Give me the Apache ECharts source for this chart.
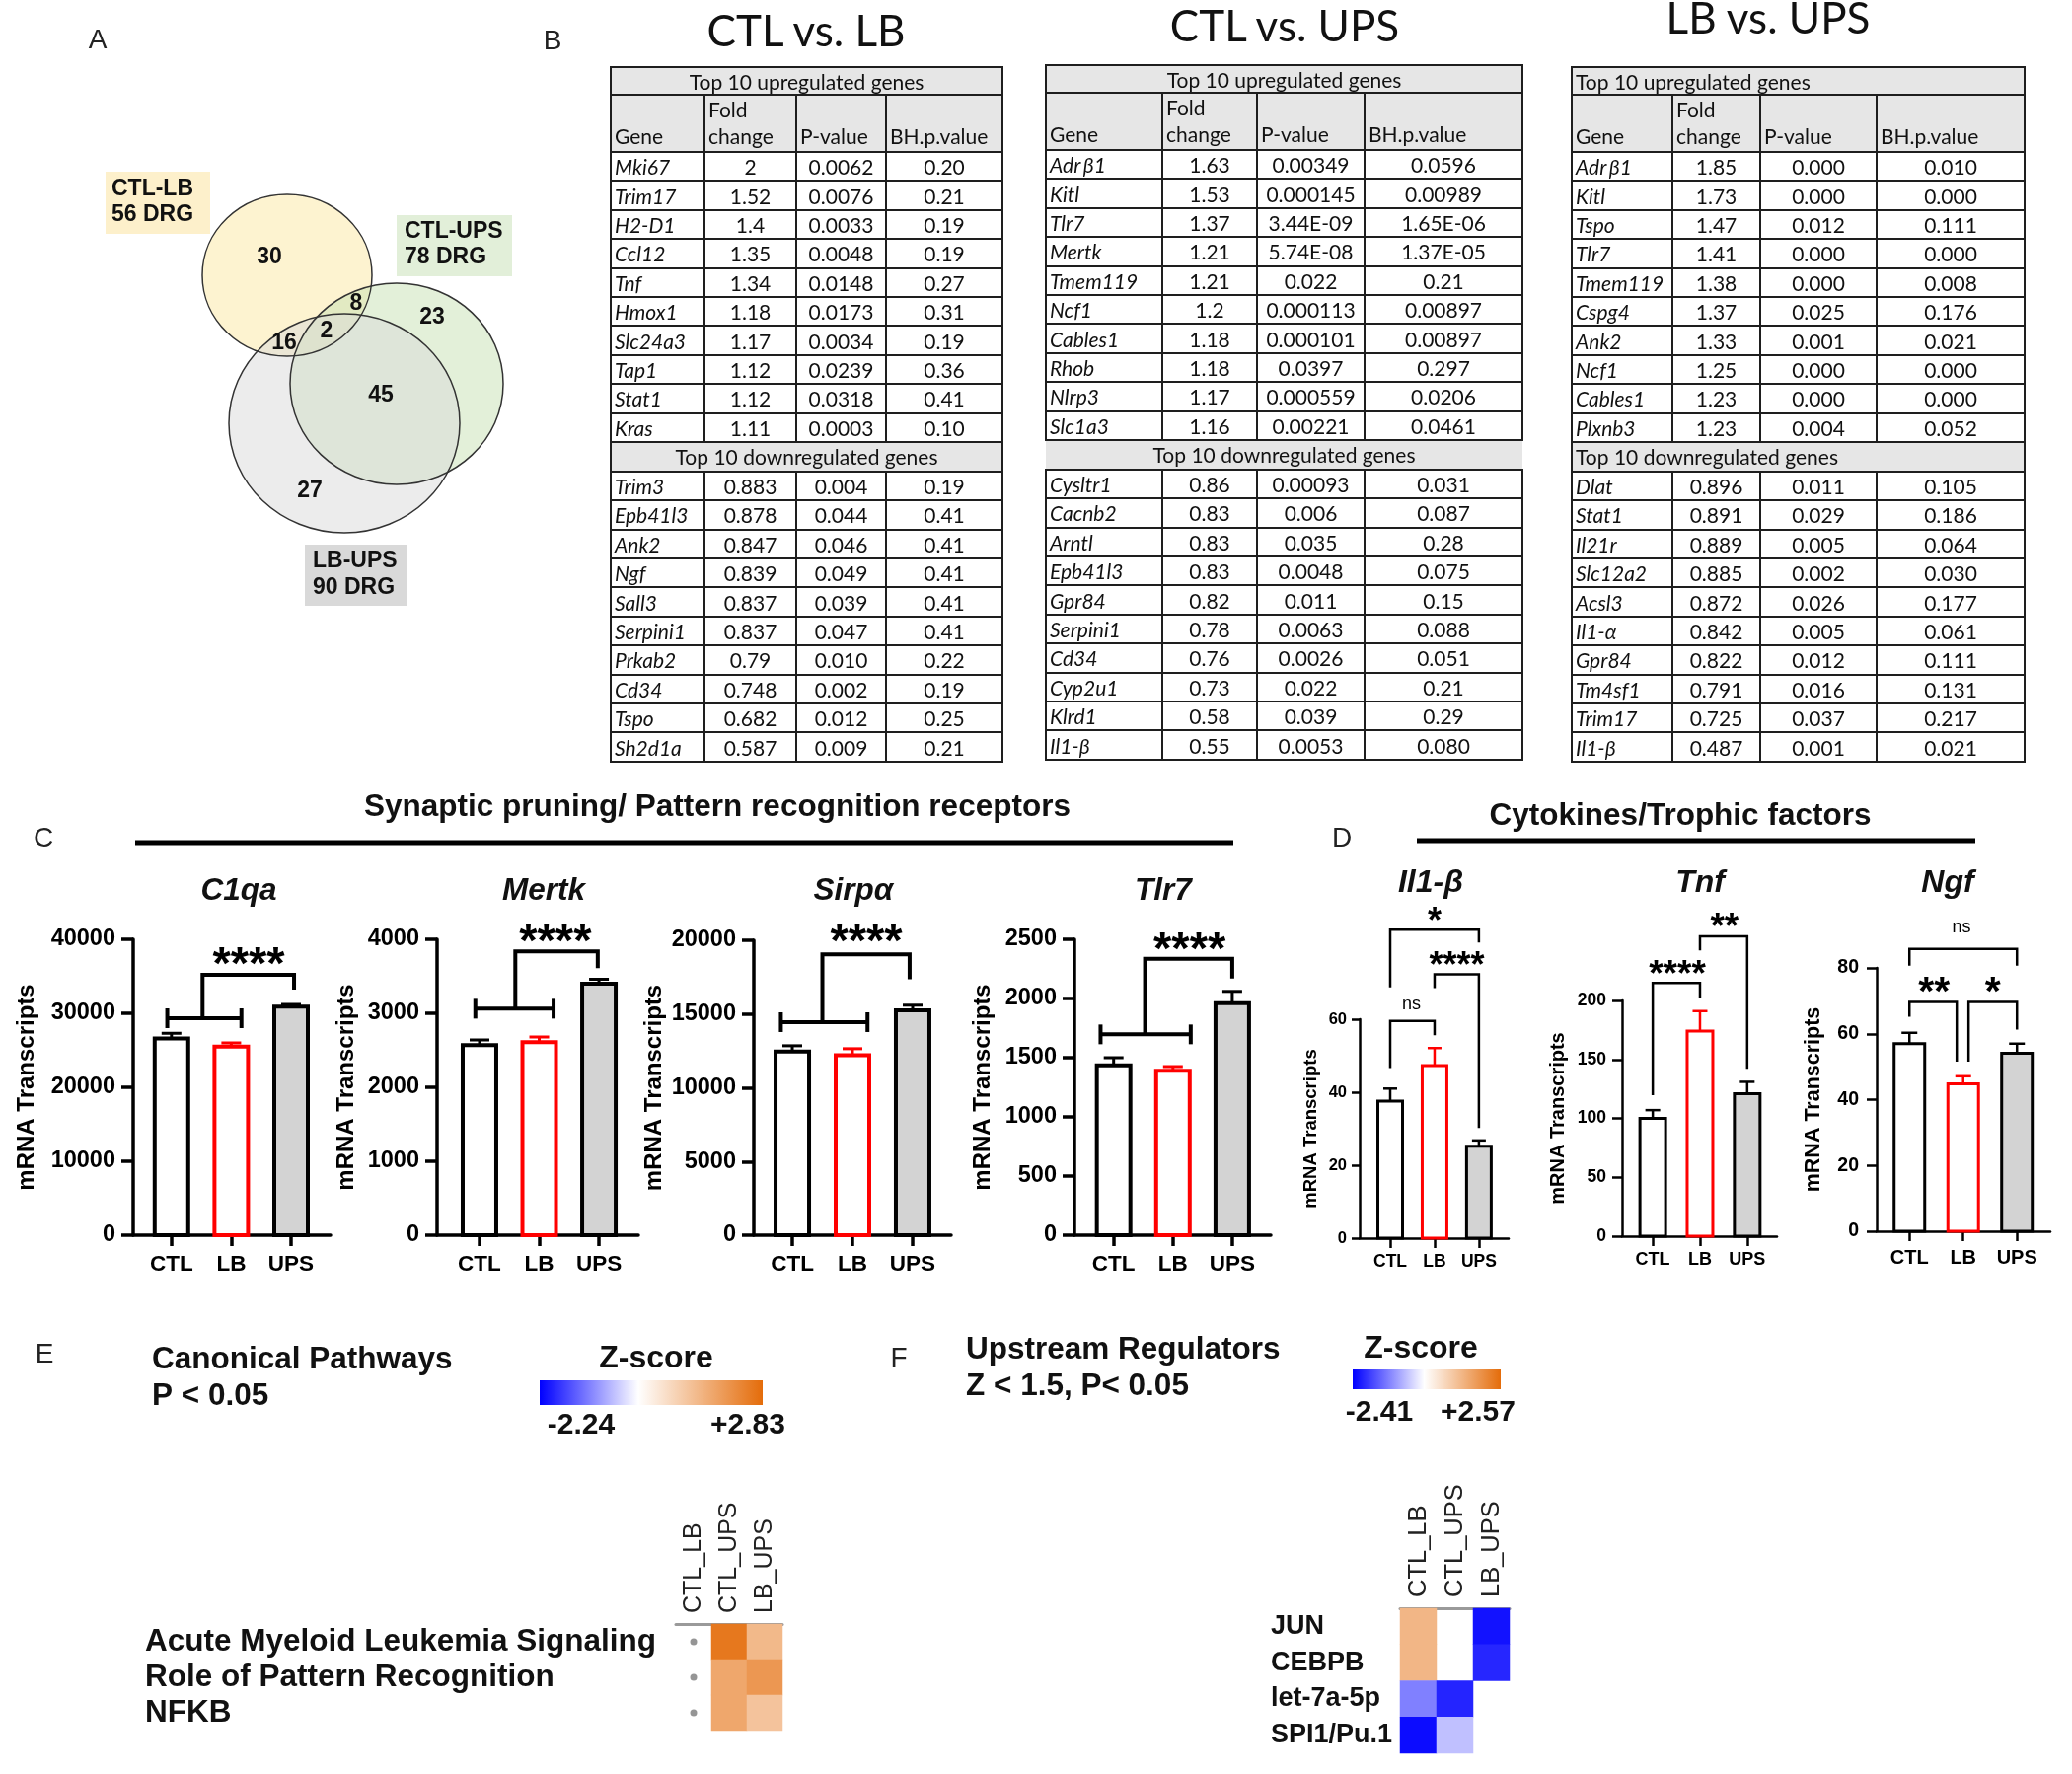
<!DOCTYPE html>
<html>
<head>
<meta charset="utf-8">
<script src="https://cdn.jsdelivr.net/npm/echarts@6/dist/echarts.min.js"></script>
<style>
html,body{margin:0;padding:0;background:#fff;}
#wrap{position:relative;width:2100px;height:1798px;overflow:hidden;background:#fff;}
#chart{position:absolute;left:0;top:0;width:2100px;height:1798px;}
.ttl{position:absolute;font-family:Lato,'Open Sans',sans-serif;font-size:44px;color:#111;transform:translate(-50%,-50%);white-space:nowrap;line-height:1;z-index:2;}
table.t{position:absolute;border-collapse:collapse;table-layout:fixed;font-family:Lato,'Open Sans',sans-serif;font-size:21px;color:#111;z-index:2;}
table.t td{border:2px solid #1e1e1e;padding:0 3px;text-align:center;white-space:nowrap;overflow:hidden;line-height:1;vertical-align:middle;}
table.t td.g{text-align:left;font-style:italic;}
table.t tr.hd td{background:#e6e6e6;}
table.t tr.ch td{background:#e6e6e6;text-align:left;vertical-align:bottom;padding-bottom:2px;line-height:27px;}
</style>
</head>
<body>
<div id="wrap"><div id="chart"></div></div>
<script>
// ================= DATA =================
// Panel A (Venn)
const vennSets = ['CTL-LB', 'CTL-UPS', 'LB-UPS'];
const vennTotals = [56, 78, 90];
const vennRegions = ['CTL-LB only', 'CTL-LB & CTL-UPS', 'CTL-UPS only', 'all three', 'CTL-LB & LB-UPS', 'CTL-UPS & LB-UPS', 'LB-UPS only'];
const vennCounts = [30, 8, 23, 2, 16, 45, 27];

// Panel B tables
const t1UpGenes = ['Mki67','Trim17','H2-D1','Ccl12','Tnf','Hmox1','Slc24a3','Tap1','Stat1','Kras'];
const t1UpFC = ['2','1.52','1.4','1.35','1.34','1.18','1.17','1.12','1.12','1.11'];
const t1UpP = ['0.0062','0.0076','0.0033','0.0048','0.0148','0.0173','0.0034','0.0239','0.0318','0.0003'];
const t1UpBH = ['0.20','0.21','0.19','0.19','0.27','0.31','0.19','0.36','0.41','0.10'];
const t1DnGenes = ['Trim3','Epb41l3','Ank2','Ngf','Sall3','Serpini1','Prkab2','Cd34','Tspo','Sh2d1a'];
const t1DnFC = ['0.883','0.878','0.847','0.839','0.837','0.837','0.79','0.748','0.682','0.587'];
const t1DnP = ['0.004','0.044','0.046','0.049','0.039','0.047','0.010','0.002','0.012','0.009'];
const t1DnBH = ['0.19','0.41','0.41','0.41','0.41','0.41','0.22','0.19','0.25','0.21'];

const t2UpGenes = ['Adr\u2009β1','Kitl','Tlr7','Mertk','Tmem119','Ncf1','Cables1','Rhob','Nlrp3','Slc1a3'];
const t2UpFC = ['1.63','1.53','1.37','1.21','1.21','1.2','1.18','1.18','1.17','1.16'];
const t2UpP = ['0.00349','0.000145','3.44E-09','5.74E-08','0.022','0.000113','0.000101','0.0397','0.000559','0.00221'];
const t2UpBH = ['0.0596','0.00989','1.65E-06','1.37E-05','0.21','0.00897','0.00897','0.297','0.0206','0.0461'];
const t2DnGenes = ['Cysltr1','Cacnb2','Arntl','Epb41l3','Gpr84','Serpini1','Cd34','Cyp2u1','Klrd1','Il1-β'];
const t2DnFC = ['0.86','0.83','0.83','0.83','0.82','0.78','0.76','0.73','0.58','0.55'];
const t2DnP = ['0.00093','0.006','0.035','0.0048','0.011','0.0063','0.0026','0.022','0.039','0.0053'];
const t2DnBH = ['0.031','0.087','0.28','0.075','0.15','0.088','0.051','0.21','0.29','0.080'];

const t3UpGenes = ['Adr\u2009β1','Kitl','Tspo','Tlr7','Tmem119','Cspg4','Ank2','Ncf1','Cables1','Plxnb3'];
const t3UpFC = ['1.85','1.73','1.47','1.41','1.38','1.37','1.33','1.25','1.23','1.23'];
const t3UpP = ['0.000','0.000','0.012','0.000','0.000','0.025','0.001','0.000','0.000','0.004'];
const t3UpBH = ['0.010','0.000','0.111','0.000','0.008','0.176','0.021','0.000','0.000','0.052'];
const t3DnGenes = ['Dlat','Stat1','Il21r','Slc12a2','Acsl3','Il1-α','Gpr84','Tm4sf1','Trim17','Il1-β'];
const t3DnFC = ['0.896','0.891','0.889','0.885','0.872','0.842','0.822','0.791','0.725','0.487'];
const t3DnP = ['0.011','0.029','0.005','0.002','0.026','0.005','0.012','0.016','0.037','0.001'];
const t3DnBH = ['0.105','0.186','0.064','0.030','0.177','0.061','0.111','0.131','0.217','0.021'];

// Panels C & D (bar charts: mean and SEM)
const groups = ['CTL', 'LB', 'UPS'];
const c1qaMean = [26600, 25500, 30900];
const c1qaSEM = [700, 500, 300];
const c1qaTicks = [0, 10000, 20000, 30000, 40000];
const mertkMean = [2570, 2610, 3400];
const mertkSEM = [70, 70, 60];
const mertkTicks = [0, 1000, 2000, 3000, 4000];
const sirpaMean = [12450, 12200, 15250];
const sirpaSEM = [400, 450, 350];
const sirpaTicks = [0, 5000, 10000, 15000, 20000];
const tlr7Mean = [1435, 1390, 1960];
const tlr7SEM = [65, 35, 100];
const tlr7Ticks = [0, 500, 1000, 1500, 2000, 2500];
const il1bMean = [37.6, 47.3, 25.2];
const il1bSEM = [3.4, 4.8, 1.6];
const il1bTicks = [0, 20, 40, 60];
const tnfMean = [100, 174, 121];
const tnfSEM = [7, 17, 10];
const tnfTicks = [0, 50, 100, 150, 200];
const ngfMean = [57.0, 44.8, 54.1];
const ngfSEM = [3.3, 2.3, 2.9];
const ngfTicks = [0, 20, 40, 60, 80];

// significance annotations (x in group index units, y in data units)
const c1qaSig = {h: [-0.07, 1.17, 29333], link: [[0.52, 29333], [0.52, 35200], [2.05, 35200], [2.05, 33200]], text: ['****', 1.29, 37900]};
const mertkSig = {h: [-0.07, 1.24, 3062], link: [[0.6, 3062], [0.6, 3836], [1.98, 3836], [1.98, 3610]], text: ['****', 1.27, 4093]};
const sirpaSig = {h: [-0.19, 1.25, 14450], link: [[0.5, 14450], [0.5, 19040], [1.95, 19040], [1.95, 17360]], text: ['****', 1.23, 20490]};
const tlr7Sig = {h: [-0.22, 1.3, 1697], link: [[0.53, 1697], [0.53, 2336], [2.0, 2336], [2.0, 2169]], text: ['****', 1.28, 2489]};
const il1bSig = {br: [[0, 1, 59.5, 46.6, 55.6], [1, 2, 72.3, 68.5, 30.2], [0, 2, 84.5, 68.7, 81.0]],
                 labels: [['ns', 0.48, 63.5], ['****', 1.5, 76.6], ['*', 1.0, 88.7]]};
const tnfSig = {br: [[0, 1, 214.8, 119.7, 202], [1, 2, 254.4, 242.4, 142]],
                labels: [['****', 0.52, 227.9], ['**', 1.52, 268]]};
const ngfSig = {br: [[0, 2, 85.8, 80.7, 80.7], [0, 0.88, 69.7, 65.2, 51.5], [1.1, 2, 69.7, 51.5, 61.3]],
                labels: [['ns', 0.97, 91.7], ['**', 0.46, 75.2], ['*', 1.55, 75.2]]};

// Panel E heatmap
const eCols = ['CTL_LB', 'CTL_UPS', 'LB_UPS'];
const eRows = ['Acute Myeloid Leukemia Signaling', 'Role of Pattern Recognition', 'NFKB'];
const eZ = [[null, 2.6, 1.35], [null, 1.7, 2.0], [null, 1.7, 1.15]];
const eRange = [-2.24, 2.83];
// Panel F heatmap
const fCols = ['CTL_LB', 'CTL_UPS', 'LB_UPS'];
const fRows = ['JUN', 'CEBPB', 'let-7a-5p', 'SPI1/Pu.1'];
const fZ = [[1.27, null, -2.24], [1.27, null, -2.05], [-1.2, -2.07, null], [-2.3, -0.6, null]];
const fRange = [-2.41, 2.57];

// ================= STYLE / LAYOUT =================
const SANS = '"Liberation Sans", Arial, Helvetica, sans-serif';
const NEG = [0, 0, 255], ZERO = [255, 255, 255], POS = [228, 108, 10];
const barFill = ['#ffffff', '#ffffff', '#d3d3d3'];
const barStroke = ['#000000', '#ff0000', '#000000'];

const SC = {axisW: 3.5, tickLen: 12, xTickLen: 11, labelFs: 23.5, labelMargin: 18, catFs: 22.5, catMargin: 18, nameFs: 24,
            barW: 38, barLW: 4, errLW: 3, capW: 20, sigLW: 4, capH: 10, starFs: 47, nsFs: 18, titleY: 903, titleFs: 31.5};
const SD1 = {axisW: 2.5, tickLen: 8, xTickLen: 10, labelFs: 16.5, labelMargin: 13, catFs: 17.5, catMargin: 15, nameFs: 18.5,
             barW: 28, barLW: 3, errLW: 2.5, capW: 14, sigLW: 2.5, starFs: 36, nsFs: 18, titleY: 895, titleFs: 32};
const SD2 = Object.assign({}, SD1, {tickLen: 10, labelFs: 17.5, labelMargin: 16, catFs: 18, nameFs: 20, barW: 29, capW: 15, starFs: 37});
const SD3 = Object.assign({}, SD1, {tickLen: 10, labelFs: 19.5, labelMargin: 18, catFs: 20, catMargin: 17, nameFs: 21.5, barW: 34, capW: 16, starFs: 41});

const barPanels = [
  {title: 'C1qa', mean: c1qaMean, sem: c1qaSEM, ticks: c1qaTicks, sig: c1qaSig, S: SC,
   L: {left: 135, right: 335, top: 952, bottom: 1252, xmin: -0.64, xmax: 2.66, titleX: 242, nameX: 27}},
  {title: 'Mertk', mean: mertkMean, sem: mertkSEM, ticks: mertkTicks, sig: mertkSig, S: SC,
   L: {left: 443, right: 647, top: 952, bottom: 1252, xmin: -0.71, xmax: 2.66, titleX: 551, nameX: 351}},
  {title: 'Sirpα', mean: sirpaMean, sem: sirpaSEM, ticks: sirpaTicks, sig: sirpaSig, S: SC,
   L: {left: 764, right: 964, top: 953, bottom: 1252, xmin: -0.64, xmax: 2.64, titleX: 865, nameX: 663}},
  {title: 'Tlr7', mean: tlr7Mean, sem: tlr7SEM, ticks: tlr7Ticks, sig: tlr7Sig, S: SC,
   L: {left: 1089, right: 1288, top: 952, bottom: 1252, xmin: -0.66, xmax: 2.65, titleX: 1179, nameX: 996}},
  {title: 'Il1-β', mean: il1bMean, sem: il1bSEM, ticks: il1bTicks, sig: il1bSig, S: SD1,
   L: {left: 1378, right: 1529, top: 1033, bottom: 1255, xmin: -0.69, xmax: 2.67, titleX: 1450, nameX: 1329}},
  {title: 'Tnf', mean: tnfMean, sem: tnfSEM, ticks: tnfTicks, sig: tnfSig, S: SD2,
   L: {left: 1644, right: 1801, top: 1014, bottom: 1253, xmin: -0.65, xmax: 2.63, titleX: 1723, nameX: 1579}},
  {title: 'Ngf', mean: ngfMean, sem: ngfSEM, ticks: ngfTicks, sig: ngfSig, S: SD3,
   L: {left: 1902, right: 2078, top: 981, bottom: 1248, xmin: -0.61, xmax: 2.62, titleX: 1974, nameX: 1838}}
];

// ================= TABLES (HTML) =================
const tableSpecs = [
  {title: 'CTL vs. LB', tx: 817, ty: 30, x: 618, y: 67, cols: [95, 93, 91, 118], align: 'center', split: false,
   up: [t1UpGenes, t1UpFC, t1UpP, t1UpBH], dn: [t1DnGenes, t1DnFC, t1DnP, t1DnBH]},
  {title: 'CTL vs. UPS', tx: 1302, ty: 25, x: 1059, y: 65, cols: [118, 96, 109, 160], align: 'center', split: true,
   up: [t2UpGenes, t2UpFC, t2UpP, t2UpBH], dn: [t2DnGenes, t2DnFC, t2DnP, t2DnBH]},
  {title: 'LB vs. UPS', tx: 1792, ty: 17, x: 1592, y: 67, cols: [102, 89, 118, 150], align: 'left', split: false,
   up: [t3UpGenes, t3UpFC, t3UpP, t3UpBH], dn: [t3DnGenes, t3DnFC, t3DnP, t3DnBH]}
];
const wrap = document.getElementById('wrap');
tableSpecs.forEach(spec => {
  const tt = document.createElement('div');
  tt.className = 'ttl'; tt.textContent = spec.title;
  tt.style.left = spec.tx + 'px'; tt.style.top = spec.ty + 'px';
  wrap.appendChild(tt);
  const t = document.createElement('table');
  t.className = 't';
  const W = spec.cols.reduce((a, b) => a + b, 0);
  t.style.left = spec.x + 'px'; t.style.top = spec.y + 'px'; t.style.width = W + 'px';
  let html = '<colgroup>' + spec.cols.map(w => `<col style="width:${w}px">`).join('') + '</colgroup>';
  const hdStyle = `text-align:${spec.align};`;
  html += `<tr class="hd" style="height:28px"><td colspan="4" style="${hdStyle}">Top 10 upregulated genes</td></tr>`;
  html += '<tr class="ch" style="height:58px"><td>Gene</td><td>Fold<br>change</td><td>P-value</td><td>BH.p.value</td></tr>';
  const rows = (arr) => arr[0].map((g, i) =>
    `<tr style="height:29.4px"><td class="g">${g}</td><td>${arr[1][i]}</td><td>${arr[2][i]}</td><td>${arr[3][i]}</td></tr>`).join('');
  html += rows(spec.up);
  const dnStyle = hdStyle + (spec.split ? 'border-left:none;border-right:none;' : '');
  html += `<tr class="hd" style="height:30px"><td colspan="4" style="${dnStyle}">Top 10 downregulated genes</td></tr>`;
  html += rows(spec.dn);
  t.innerHTML = html;
  wrap.appendChild(t);
});

// ================= ECHARTS =================
function mix(a, b, t) { return 'rgb(' + a.map((v, k) => Math.round(v + (b[k] - v) * t)).join(',') + ')'; }
function zColor(v, min, max) { return v < 0 ? mix(ZERO, NEG, Math.min(1, v / min)) : mix(ZERO, POS, Math.min(1, v / max)); }
function ramp(min, max, n) { const out = []; for (let k = 0; k < n; k++) out.push(zColor(min + (max - min) * k / (n - 1), min, max)); return out; }

function textStyle(text, font, align, vAlign, fill) {
  return {text, font, fill: fill || '#111', align: align || 'center', verticalAlign: vAlign || 'middle',
          textAlign: align || 'center', textVerticalAlign: vAlign || 'middle'};
}
function sigText(pt, text, S) {
  const star = text[0] === '*';
  const fs = star ? S.starFs : S.nsFs;
  const dy = star ? 0.23 * fs : -0.09 * fs;
  return {type: 'text', x: pt[0], y: pt[1] + dy,
          style: textStyle(text, (star ? 'bold ' : '') + fs + 'px ' + SANS, 'center', 'middle', '#000')};
}

const grids = [], xAxes = [], yAxes = [], series = [];
barPanels.forEach((bp, gi) => {
  const L = bp.L, S = bp.S;
  grids.push({left: L.left, top: L.top, width: L.right - L.left, height: L.bottom - L.top, containLabel: false, outerBoundsMode: 'none'});
  xAxes.push({gridIndex: gi, type: 'value', min: L.xmin, max: L.xmax,
    axisLine: {show: true, onZero: false, lineStyle: {color: '#000', width: S.axisW}},
    axisTick: {show: true, customValues: [0, 1, 2], length: S.xTickLen, lineStyle: {color: '#000', width: S.axisW}},
    axisLabel: {show: true, customValues: [0, 1, 2], formatter: v => groups[Math.round(v)], color: '#000', fontWeight: 'bold',
                fontSize: S.catFs, fontFamily: SANS, margin: S.catMargin},
    splitLine: {show: false}});
  yAxes.push({gridIndex: gi, type: 'value', min: bp.ticks[0], max: bp.ticks[bp.ticks.length - 1], interval: bp.ticks[1] - bp.ticks[0],
    axisLine: {show: true, onZero: false, lineStyle: {color: '#000', width: S.axisW}},
    axisTick: {show: true, length: S.tickLen, lineStyle: {color: '#000', width: S.axisW}},
    axisLabel: {color: '#000', fontWeight: 'bold', fontSize: S.labelFs, fontFamily: SANS, margin: S.labelMargin, formatter: v => String(v)},
    splitLine: {show: false},
    name: 'mRNA Transcripts', nameLocation: 'middle', nameRotate: 90, nameGap: L.left - L.nameX - S.nameFs / 2,
    nameTextStyle: {color: '#000', fontWeight: 'bold', fontSize: S.nameFs, fontFamily: SANS}});
  // bars + error bars
  series.push({type: 'custom', xAxisIndex: gi, yAxisIndex: gi, clip: false, silent: true, z: 3,
    data: bp.mean.map((m, i) => [i, m, m + bp.sem[i]]),
    renderItem: (params, api) => {
      const i = api.value(0), m = api.value(1), top = api.value(2);
      const p0 = api.coord([i, 0]), pm = api.coord([i, m]), pt = api.coord([i, top]);
      const w = S.barW - S.barLW;
      const stroke = barStroke[i], fill = barFill[i];
      return {type: 'group', children: [
        {type: 'line', shape: {x1: pm[0], y1: pm[1], x2: pt[0], y2: pt[1]}, style: {stroke, lineWidth: S.errLW}},
        {type: 'line', shape: {x1: pt[0] - S.capW / 2, y1: pt[1], x2: pt[0] + S.capW / 2, y2: pt[1]}, style: {stroke, lineWidth: S.errLW}},
        {type: 'rect', shape: {x: p0[0] - w / 2, y: pm[1], width: w, height: p0[1] - pm[1]}, style: {fill, stroke, lineWidth: S.barLW}}
      ]};
    }});
  // significance brackets
  series.push({type: 'custom', xAxisIndex: gi, yAxisIndex: gi, clip: false, silent: true, z: 4,
    data: [[0, 0]],
    renderItem: (params, api) => {
      const P = (x, y) => api.coord([x, y]);
      const ls = () => ({stroke: '#000', lineWidth: S.sigLW, fill: null});
      const ch = [];
      const sig = bp.sig;
      if (sig.h) {
        const a = P(sig.h[0], sig.h[2]), b = P(sig.h[1], sig.h[2]);
        ch.push({type: 'line', shape: {x1: a[0], y1: a[1], x2: b[0], y2: b[1]}, style: ls()});
        ch.push({type: 'line', shape: {x1: a[0], y1: a[1] - S.capH, x2: a[0], y2: a[1] + S.capH}, style: ls()});
        ch.push({type: 'line', shape: {x1: b[0], y1: b[1] - S.capH, x2: b[0], y2: b[1] + S.capH}, style: ls()});
        ch.push({type: 'polyline', shape: {points: sig.link.map(q => P(q[0], q[1]))}, style: ls()});
        ch.push(sigText(P(sig.text[1], sig.text[2]), sig.text[0], S));
      } else {
        sig.br.forEach(b => {
          ch.push({type: 'polyline', shape: {points: [P(b[0], b[3]), P(b[0], b[2]), P(b[1], b[2]), P(b[1], b[4])]}, style: ls()});
        });
        sig.labels.forEach(l => ch.push(sigText(P(l[1], l[2]), l[0], S)));
      }
      return {type: 'group', children: ch};
    }});
});

// heatmaps E and F
function addHeat(cols, rows, Z, grid, yLabel, withDots) {
  const gi = grids.length;
  grids.push(Object.assign({containLabel: false, outerBoundsMode: 'none'}, grid.box));
  xAxes.push({gridIndex: gi, type: 'category', data: cols, position: 'top',
    axisLine: {show: true, lineStyle: {color: '#9a9a9a', width: 3}}, axisTick: {show: false},
    axisLabel: {rotate: -90, interval: 0, margin: grid.colMargin, fontSize: grid.colFs, color: '#222', fontFamily: SANS},
    splitLine: {show: false}});
  yAxes.push({gridIndex: gi, type: 'category', data: rows, inverse: true,
    axisLine: {show: false}, axisTick: {show: false}, splitLine: {show: false},
    axisLabel: {interval: 0, align: 'left', margin: yLabel.margin, fontWeight: 'bold', fontSize: yLabel.fs, color: '#111', fontFamily: SANS}});
  const heat = [], dots = [];
  Z.forEach((r, ri) => r.forEach((v, ci) => { if (v == null) { if (withDots) dots.push([ci, ri]); } else heat.push([ci, ri, v]); }));
  const si = series.length;
  series.push({type: 'heatmap', xAxisIndex: gi, yAxisIndex: gi, data: heat, itemStyle: {borderWidth: 0}, emphasis: {disabled: true}, silent: true});
  if (withDots) series.push({type: 'scatter', xAxisIndex: gi, yAxisIndex: gi, data: dots, symbolSize: 7, itemStyle: {color: '#7a7a7a'}, silent: true});
  return si;
}
const siE = addHeat(eCols, eRows, eZ, {box: {left: 685, top: 1646, width: 108, height: 108}, colMargin: 11, colFs: 25}, {margin: 538, fs: 31.5}, true);
const siF = addHeat(fCols, fRows, fZ, {box: {left: 1419, top: 1630, width: 111, height: 147}, colMargin: 11, colFs: 25.5}, {margin: 131, fs: 27}, false);

// ---------- graphic (labels, venn, colorbars, section headers) ----------
const G = [];
function T(x, y, text, font, align, vAlign, fill, rotation) {
  G.push({type: 'text', x, y, rotation: rotation || 0, z: 10, style: textStyle(text, font, align, vAlign, fill)});
}
const LETTER = '28px ' + SANS;
[['A', 99, 41], ['B', 560, 42], ['C', 44, 850], ['D', 1360, 850], ['E', 45, 1373], ['F', 911, 1377]]
  .forEach(l => T(l[1], l[2], l[0], LETTER, 'center', 'middle', '#222'));

// Venn (layout)
const vennShapes = [
  {cx: 291, cy: 279, rx: 86, ry: 82, fill: 'rgba(251,231,161,0.5)'},
  {cx: 402, cy: 389, rx: 108, ry: 102, fill: 'rgba(199,225,179,0.5)'},
  {cx: 349, cy: 429, rx: 117, ry: 111, fill: 'rgba(217,217,217,0.5)'}
];
const vennBoxes = [
  {x: 107, y: 174, w: 106, h: 63, fill: '#fdf0cb', tx: 113, ty: [192, 218]},
  {x: 402, y: 218, w: 117, h: 62, fill: '#e2efd9', tx: 410, ty: [235, 261]},
  {x: 309, y: 552, w: 104, h: 62, fill: '#d9d9d9', tx: 317, ty: [569, 596]}
];
const vennLabelPos = [[273, 261], [361, 308], [438, 322], [331, 336], [288, 348], [386, 401], [314, 498]];
vennShapes.forEach(s => G.push({type: 'ellipse', z: 2, shape: {cx: s.cx, cy: s.cy, rx: s.rx, ry: s.ry}, style: {fill: s.fill}}));
vennShapes.forEach(s => G.push({type: 'ellipse', z: 3, shape: {cx: s.cx, cy: s.cy, rx: s.rx, ry: s.ry}, style: {fill: null, stroke: '#333', lineWidth: 1.5}}));
vennBoxes.forEach((b, i) => {
  G.push({type: 'rect', z: 2, shape: {x: b.x, y: b.y, width: b.w, height: b.h}, style: {fill: b.fill}});
  T(b.tx, b.ty[0], vennSets[i], 'bold 23px ' + SANS, 'left', 'middle', '#111');
  T(b.tx, b.ty[1], vennTotals[i] + ' DRG', 'bold 23px ' + SANS, 'left', 'middle', '#111');
});
vennCounts.forEach((c, i) => T(vennLabelPos[i][0], vennLabelPos[i][1], String(c), 'bold 23px ' + SANS, 'center', 'middle', '#111'));

// section headers
T(727, 818, 'Synaptic pruning/ Pattern recognition receptors', 'bold 31.5px ' + SANS, 'center', 'middle', '#111');
G.push({type: 'line', z: 5, shape: {x1: 137, y1: 854, x2: 1250, y2: 854}, style: {stroke: '#000', lineWidth: 5}});
T(1703, 827, 'Cytokines/Trophic factors', 'bold 31.5px ' + SANS, 'center', 'middle', '#111');
G.push({type: 'line', z: 5, shape: {x1: 1436, y1: 852, x2: 2002, y2: 852}, style: {stroke: '#000', lineWidth: 5}});

// bar chart titles
barPanels.forEach(bp => T(bp.L.titleX, bp.S.titleY, bp.title, 'italic bold ' + bp.S.titleFs + 'px ' + SANS, 'center', 'middle', '#111'));

// E / F headers and colorbars
function colorbar(x, y, w, h, range) {
  const mid = -range[0] / (range[1] - range[0]);
  G.push({type: 'rect', z: 4, shape: {x, y, width: w, height: h},
    style: {fill: {type: 'linear', x: 0, y: 0, x2: 1, y2: 0, colorStops: [
      {offset: 0, color: zColor(range[0], range[0], range[1])}, {offset: mid, color: '#ffffff'}, {offset: 1, color: zColor(range[1], range[0], range[1])}]}}});
}
const HB = 'bold 31.5px ' + SANS;
const ZB = 'bold 32px ' + SANS;
const VB = 'bold 30px ' + SANS;
T(154, 1378, 'Canonical Pathways', HB, 'left', 'middle', '#111');
T(154, 1415, 'P < 0.05', HB, 'left', 'middle', '#111');
T(665, 1377, 'Z-score', ZB, 'center', 'middle', '#111');
colorbar(547, 1399, 226, 25, eRange);
T(589, 1445, '-2.24', VB, 'center', 'middle', '#111');
T(758, 1445, '+2.83', VB, 'center', 'middle', '#111');

T(979, 1368, 'Upstream Regulators', HB, 'left', 'middle', '#111');
T(979, 1405, 'Z < 1.5, P< 0.05', HB, 'left', 'middle', '#111');
T(1440, 1367, 'Z-score', ZB, 'center', 'middle', '#111');
colorbar(1371, 1388, 150, 20, fRange);
T(1398, 1432, '-2.41', VB, 'center', 'middle', '#111');
T(1498, 1432, '+2.57', VB, 'center', 'middle', '#111');

const chart = echarts.init(document.getElementById('chart'), null, {renderer: 'canvas', width: 2100, height: 1798});
chart.setOption({
  animation: false,
  backgroundColor: '#ffffff',
  textStyle: {fontFamily: SANS},
  grid: grids, xAxis: xAxes, yAxis: yAxes, series: series,
  visualMap: [
    {type: 'continuous', show: false, seriesIndex: siE, dimension: 2, min: eRange[0], max: eRange[1], inRange: {color: ramp(eRange[0], eRange[1], 101)}},
    {type: 'continuous', show: false, seriesIndex: siF, dimension: 2, min: fRange[0], max: fRange[1], inRange: {color: ramp(fRange[0], fRange[1], 101)}}
  ],
  graphic: G
});
</script>
</body>
</html>
